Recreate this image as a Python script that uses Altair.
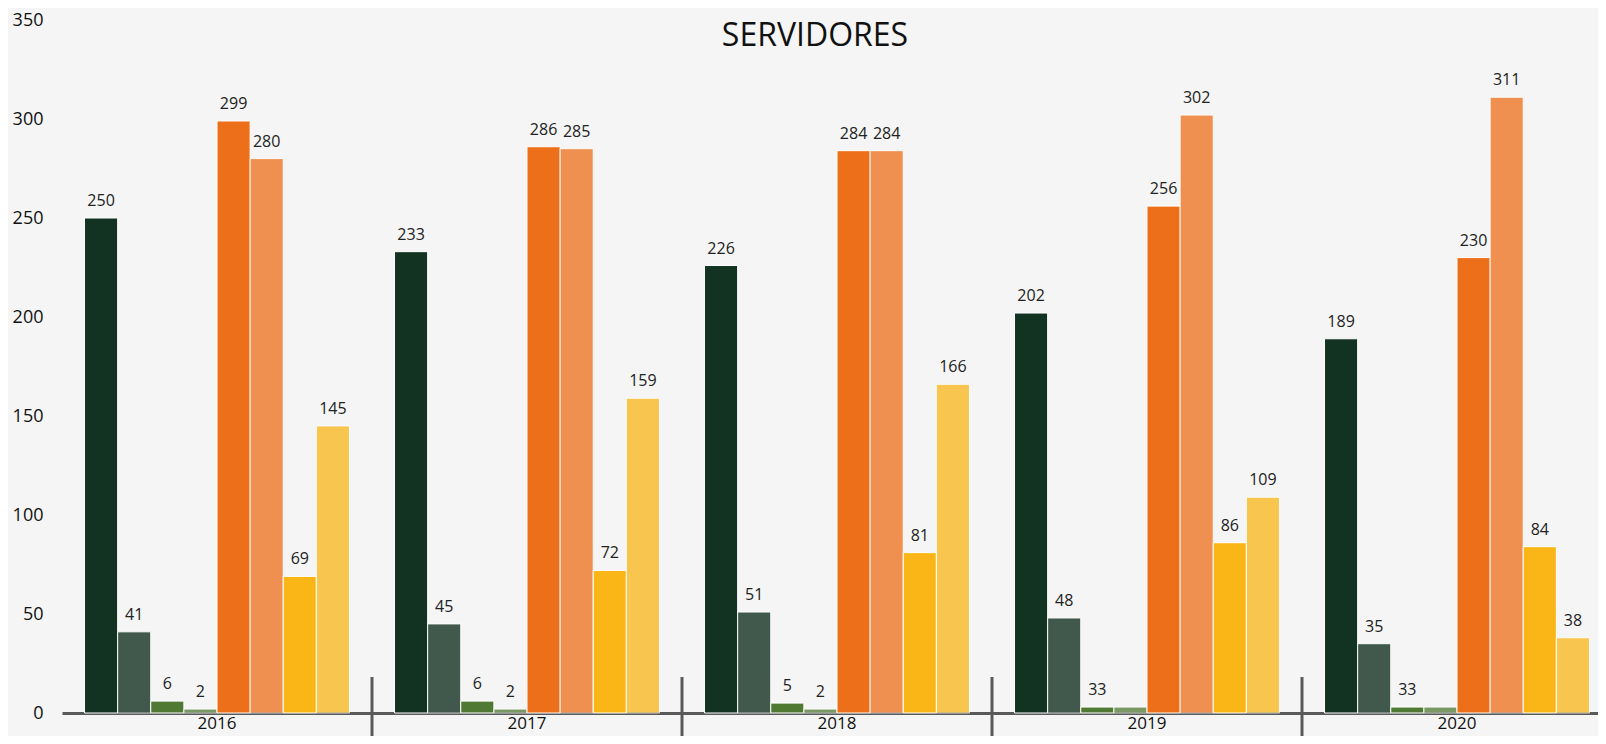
import altair as alt
import pandas as pd

title_text = ["SERVIDORES"]
years = ["2016", "2017", "2018", "2019", "2020"]
series = ["S1", "S2", "S3", "S4", "S5", "S6", "S7", "S8"]
colors = ["#133322", "#133322", "#507a34", "#507a34", "#ed6f19", "#ed6f19", "#fab517", "#fab517"]
alphas = [1.0, 0.8, 1.0, 0.75, 1.0, 0.75, 1.0, 0.75]

values = {
    "2016": [250, 41, 6, 2, 299, 280, 69, 145],
    "2017": [233, 45, 6, 2, 286, 285, 72, 159],
    "2018": [226, 51, 5, 2, 284, 284, 81, 166],
    "2019": [202, 48, 3, 3, 256, 302, 86, 109],
    "2020": [189, 35, 3, 3, 230, 311, 84, 38],
}
labels = {
    "2016": ["250", "41", "6", "2", "299", "280", "69", "145"],
    "2017": ["233", "45", "6", "2", "286", "285", "72", "159"],
    "2018": ["226", "51", "5", "2", "284", "284", "81", "166"],
    "2019": ["202", "48", "33", "", "256", "302", "86", "109"],
    "2020": ["189", "35", "33", "", "230", "311", "84", "38"],
}
separators = ["2017", "2018", "2019", "2020"]

rows = []
for y in years:
    for i, s in enumerate(series):
        rows.append({"year": y, "serie": s, "value": values[y][i],
                     "label": labels[y][i], "alpha": alphas[i]})
df = pd.DataFrame(rows)
sep_df = pd.DataFrame({"year": separators})
title_df = pd.DataFrame({"t": title_text})

FONT = "Open Sans"

xscale = alt.Scale(domain=years, range=[0, 1550], paddingInner=0, paddingOuter=0)
xaxis = alt.Axis(title=None, labelAngle=0, domainColor="#595959", domainWidth=3,
                 ticks=False, labelFontSize=17, labelFont=FONT, labelColor="#111111",
                 labelPadding=2, grid=False)
xoff = alt.XOffset("serie:N", scale=alt.Scale(domain=series, paddingOuter=0.68, paddingInner=0))
yscale = alt.Scale(domain=[0, 350], nice=False)
yaxis = alt.Axis(title=None, values=[0, 50, 100, 150, 200, 250, 300, 350], domain=False,
                 ticks=False, grid=False, labelPadding=19, labelFontSize=18,
                 labelFont=FONT, labelColor="#111111")

base = alt.Chart(df)

bars = base.mark_bar(stroke="white", strokeWidth=1).encode(
    x=alt.X("year:N", scale=xscale, axis=xaxis),
    xOffset=xoff,
    y=alt.Y("value:Q", scale=yscale, axis=yaxis),
    color=alt.Color("serie:N", scale=alt.Scale(domain=series, range=colors), legend=None),
    opacity=alt.Opacity("alpha:Q", scale=None),
)

text = base.mark_text(dy=-9, baseline="bottom", fontSize=16, font=FONT, color="#222222").encode(
    x=alt.X("year:N", scale=xscale, axis=xaxis),
    xOffset=xoff,
    y=alt.Y("value:Q", scale=yscale, axis=yaxis),
    text="label:N",
)

seps = alt.Chart(sep_df).mark_rule(color="#595959", strokeWidth=3).encode(
    x=alt.X("year:N", scale=xscale, axis=xaxis, bandPosition=0),
    y=alt.value(657),
    y2=alt.value(730),
)

title = alt.Chart(title_df).mark_text(fontSize=32, font=FONT, color="#111111",
                                      align="center", baseline="alphabetic").encode(
    x=alt.value(753),
    y=alt.value(26),
    text="t:N",
)

chart = alt.layer(bars, seps, text, title).properties(
    width=1536,
    height=693,
    autosize=alt.AutoSizeParams(type="none"),
    padding={"left": 54, "top": 12, "right": 0, "bottom": 23},
    background="#f5f5f5",
).configure_view(stroke=None)

chart.save("out.html", embed_options={"renderer": "svg", "actions": False})
